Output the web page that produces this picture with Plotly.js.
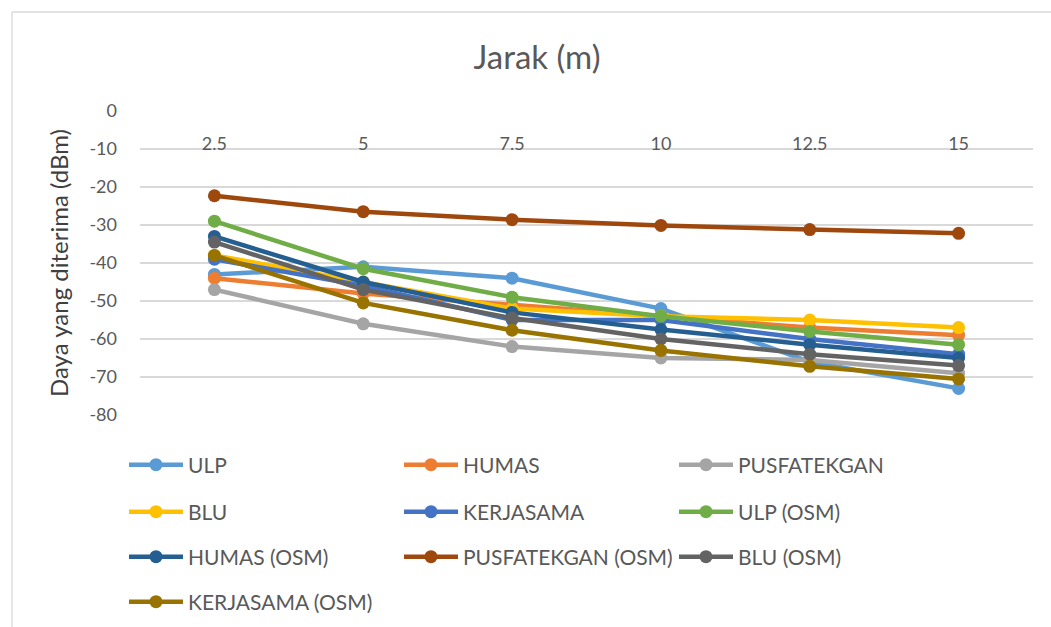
<!DOCTYPE html>
<html>
<head>
<meta charset="utf-8">
<script src="https://cdn.plot.ly/plotly-3.0.1.min.js"></script>
<style>html,body{margin:0;padding:0;background:#fff;}#chart{width:1051px;height:627px;}</style>
</head>
<body>
<div id="chart"></div>
<script>
const categories = ["2.5", "5", "7.5", "10", "12.5", "15"];
const yTickVals = [0, -10, -20, -30, -40, -50, -60, -70, -80];
const yTickText = ["0", "-10", "-20", "-30", "-40", "-50", "-60", "-70", "-80"];
const seriesNames = ["ULP", "HUMAS", "PUSFATEKGAN", "BLU", "KERJASAMA",
  "ULP (OSM)", "HUMAS (OSM)", "PUSFATEKGAN (OSM)", "BLU (OSM)", "KERJASAMA (OSM)"];
const ULP = [-43, -41, -44, -52, -66, -73];
const HUMAS = [-44, -48, -51, -54, -57, -59];
const PUSFATEKGAN = [-47, -56, -62, -65, -65.5, -69];
const BLU = [-38, -45, -52, -54, -55, -57];
const KERJASAMA = [-39, -46, -55, -55, -60, -64];
const ULP_OSM = [-29, -41.5, -49, -54, -58, -61.5];
const HUMAS_OSM = [-33, -45, -53, -57.5, -61.5, -65];
const PUSFATEKGAN_OSM = [-22.3, -26.5, -28.6, -30.1, -31.2, -32.2];
const BLU_OSM = [-34.5, -47, -54.5, -60, -64, -67];
const KERJASAMA_OSM = [-38, -50.5, -57.7, -63, -67.2, -70.5];
const seriesValues = [ULP, HUMAS, PUSFATEKGAN, BLU, KERJASAMA, ULP_OSM, HUMAS_OSM, PUSFATEKGAN_OSM, BLU_OSM, KERJASAMA_OSM];
const colors = ["#5B9BD5", "#ED7D31", "#A5A5A5", "#FFC000", "#4472C4",
  "#70AD47", "#255E91", "#9E480E", "#636363", "#997300"];
const legendRow = ["legend", "legend", "legend", "legend2", "legend2", "legend2", "legend3", "legend3", "legend3", "legend4"];

const FONT = "Lato, 'Liberation Sans', sans-serif";
const traces = seriesNames.map((n, i) => ({
  type: "scatter", mode: "lines+markers", name: n,
  x: categories, y: seriesValues[i],
  line: {color: colors[i], width: 4.5},
  marker: {color: colors[i], size: 13},
  legend: legendRow[i]
}));

const L = 140, R = 1033, T = 111, B = 415;
const W = R - L, H = B - T;
function px(x) { return (x - L) / W; }
function py(y) { return (B - y) / H; }

function leg(yc) {
  return {orientation: "h", x: px(124), xanchor: "left", y: py(yc), yanchor: "middle",
    entrywidth: 206, entrywidthmode: "pixels", itemwidth: 54,
    font: {family: FONT, size: 21, color: "#595959"}, bgcolor: "rgba(0,0,0,0)", traceorder: "normal"};
}

const layout = {
  width: 1051, height: 627,
  margin: {l: L, r: 1051 - R, t: T, b: 627 - B, autoexpand: false},
  paper_bgcolor: "#fff", plot_bgcolor: "#fff",
  font: {family: FONT, color: "#595959"},
  title: {text: "Jarak (m)", font: {family: FONT, size: 33, color: "#595959"},
    xref: "container", x: 537 / 1051, xanchor: "center", yref: "container", y: 1 - 57 / 627, yanchor: "middle"},
  xaxis: {type: "category", side: "bottom", anchor: "free", position: py(131), automargin: false,
    showgrid: false, zeroline: false, showline: false, ticks: "",
    tickfont: {family: FONT, size: 18, color: "#595959"}, range: [-0.5, 5.5], fixedrange: true},
  yaxis: {range: [-80, 0], tickvals: yTickVals, ticktext: yTickText, showgrid: true, gridcolor: "#D9D9D9", gridwidth: 1.3,
    zeroline: false, showline: false, ticks: "", ticklabelstandoff: 22, automargin: false,
    tickfont: {family: FONT, size: 18, color: "#595959"},
    title: {text: "Daya yang diterima (dBm)", font: {family: FONT, size: 24, color: "#404040"}, standoff: 14}},
  showlegend: true,
  legend: leg(465), legend2: leg(512), legend3: leg(557), legend4: leg(602),
  shapes: [
    {type: "line", xref: "paper", yref: "paper", x0: px(12), x1: px(1051), y0: py(12), y1: py(12), line: {color: "#D9D9D9", width: 1.3}},
    {type: "line", xref: "paper", yref: "paper", x0: px(12), x1: px(12), y0: py(12), y1: py(627), line: {color: "#D9D9D9", width: 1.3}}
  ]
};
Plotly.newPlot("chart", traces, layout, {displayModeBar: false, staticPlot: true});
</script>
</body>
</html>
